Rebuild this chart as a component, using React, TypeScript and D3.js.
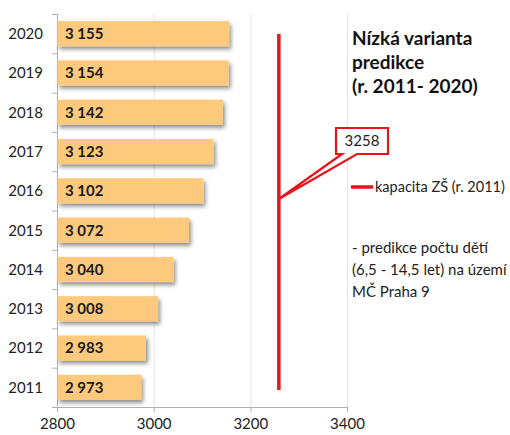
import React from "react";
import * as d3 from "d3";

const years = ["2011", "2012", "2013", "2014", "2015", "2016", "2017", "2018", "2019", "2020"];
const values = [2973, 2983, 3008, 3040, 3072, 3102, 3123, 3142, 3154, 3155];
const valueLabels = ["2 973", "2 983", "3 008", "3 040", "3 072", "3 102", "3 123", "3 142", "3 154", "3 155"];
const capacity = 3258;
const xTicks = [2800, 3000, 3200, 3400];
const titleLines = ["Nízká varianta", "predikce", "(r. 2011- 2020)"];
const noteLines = ["- predikce počtu dětí", "(6,5 - 14,5 let) na území", "MČ Praha 9"];
const legendLabel = "kapacita ZŠ (r. 2011)";

const FONT = "Lato, 'Open Sans', sans-serif";

export default function App() {
  const W = 510, H = 435;
  const x = d3.scaleLinear().domain([2800, 3400]).range([57.5, 347.5]);
  const y = d3.scaleBand<string>().domain([...years].reverse()).range([14, 407]).paddingInner(0.36).paddingOuter(0.18);
  const yb = d3.scaleBand<string>().domain([...years].reverse()).range([14, 407]);
  const cx = x(capacity);
  const lineTop = y("2020")! + 13;
  const lineBottom = y("2011")! + y.bandwidth() - 10;

  const bx0 = 336, bx1 = 388, by0 = 128, by1 = 154;
  const tipY = 199;
  const calloutPath = `M${bx0},${by0} L${bx1},${by0} L${bx1},${by1} L357,${by1} L${cx},${tipY} L342,${by1} L${bx0},${by1} Z`;

  return (
    <div style={{ position: "fixed", left: 0, top: 0, width: W, height: H, overflow: "hidden" }}>
      <svg width={W} height={H} style={{ display: "block", background: "#fff" }}>
        <defs>
          <filter id="sh" x="-10%" y="-30%" width="130%" height="200%">
            <feGaussianBlur in="SourceAlpha" stdDeviation="2" />
            <feOffset dx="2" dy="3" result="ob" />
            <feComponentTransfer><feFuncA type="linear" slope="0.45" /></feComponentTransfer>
            <feMerge><feMergeNode /><feMergeNode in="SourceGraphic" /></feMerge>
          </filter>
        </defs>
        {xTicks.slice(1).map((t) => (
          <line key={t} x1={x(t)} x2={x(t)} y1={14} y2={407} stroke="#e4e4e4" strokeWidth={1} />
        ))}
        <line x1={57.5} x2={57.5} y1={14} y2={407} stroke="#b0b0b0" />
        <line x1={57.5} x2={347.5} y1={407.5} y2={407.5} stroke="#b0b0b0" />
        {xTicks.map((t) => (
          <line key={"t" + t} x1={x(t)} x2={x(t)} y1={407} y2={412} stroke="#b0b0b0" />
        ))}
        {years.map((yr) => (
          <line key={"c" + yr} x1={52} x2={57.5} y1={yb(yr)! + 0.5} y2={yb(yr)! + 0.5} stroke="#b0b0b0" />
        ))}
        <line x1={52} x2={57.5} y1={407.5} y2={407.5} stroke="#b0b0b0" />
        {years.map((yr, i) => (
          <rect key={"b" + yr} x={x(2800)} y={y(yr)} width={x(values[i]) - x(2800)} height={y.bandwidth()} fill="#fdc97c" filter="url(#sh)" />
        ))}
        {years.map((yr, i) => (
          <text key={"v" + yr} x={65} y={y(yr)! + y.bandwidth() / 2} dy="0.36em" fontFamily={FONT} fontWeight="bold" fontSize={15} fill="#1a1a1a">
            {valueLabels[i]}
          </text>
        ))}
        {years.map((yr) => (
          <text key={"y" + yr} x={43} y={yb(yr)! + yb.bandwidth() / 2} dy="0.36em" textAnchor="end" fontFamily={FONT} fontSize={15} fill="#222">
            {yr}
          </text>
        ))}
        {xTicks.map((t) => (
          <text key={"xl" + t} x={x(t)} y={429} textAnchor="middle" fontFamily={FONT} fontSize={15} fill="#222">
            {t}
          </text>
        ))}
        <line x1={cx} x2={cx} y1={lineTop} y2={lineBottom} stroke="#e8141b" strokeWidth={3.5} />
        <path d={calloutPath} fill="#fff" stroke="#e8141b" strokeWidth={2.2} strokeLinejoin="miter" />
        <text x={(bx0 + bx1) / 2} y={(by0 + by1) / 2} dy="0.36em" textAnchor="middle" fontFamily={FONT} fontSize={15} fill="#222">
          {capacity}
        </text>
        <line x1={351} x2={373} y1={187} y2={187} stroke="#e8141b" strokeWidth={3.5} />
        <text x={375} y={187} dy="0.36em" fontFamily={FONT} fontSize={14.5} fill="#222">{legendLabel}</text>
        {titleLines.map((l, i) => (
          <text key={"ti" + i} x={352} y={45 + i * 24} fontFamily={FONT} fontWeight="bold" fontSize={19} fill="#111">{l}</text>
        ))}
        {noteLines.map((l, i) => (
          <text key={"n" + i} x={352} y={253 + i * 22} fontFamily={FONT} fontSize={15} fill="#222">{l}</text>
        ))}
      </svg>
    </div>
  );
}
